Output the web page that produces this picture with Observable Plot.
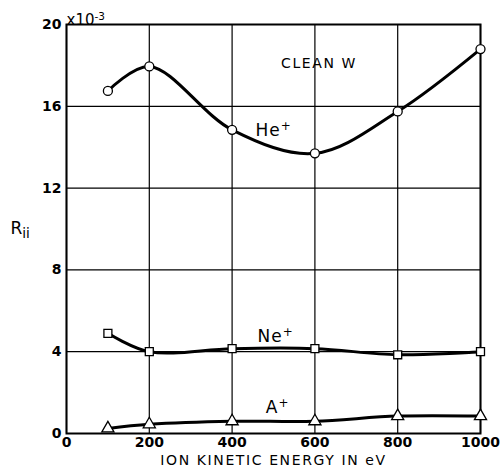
<!DOCTYPE html>
<html>
<head>
<meta charset="utf-8">
<script src="https://cdn.jsdelivr.net/npm/d3@7"></script>
<script src="https://cdn.jsdelivr.net/npm/@observablehq/plot@0.6"></script>
<style>
  body { margin: 0; background: #fff; }
  #chart svg { display: block; }
</style>
</head>
<body>
<div id="chart"></div>
<script>
const energy = [100, 200, 400, 600, 800, 1000];
const heValues = [16.75, 17.95, 14.85, 13.7, 15.75, 18.8];
const neValues = [4.9, 4.0, 4.15, 4.15, 3.85, 4.0];
const arValues = [0.25, 0.45, 0.6, 0.6, 0.85, 0.85];
const xTicks = [0, 200, 400, 600, 800, 1000];
const yTicks = [0, 4, 8, 12, 16, 20];
const seriesNames = ["He^+", "Ne^+", "A^+"];
const seriesSymbols = ["circle", "square", "triangle"];
const labelX = [500, 505, 510];
const labelY = [14.8, 4.75, 1.25];
const titleText = "CLEAN W";
const xLabel = "ION KINETIC ENERGY IN eV";
const yLabel = "R_ii";
const yUnit = "x10^-3";

const seriesValues = [heValues, neValues, arValues];
const data = seriesValues.flatMap((vals, i) =>
  vals.map((v, j) => ({ series: seriesNames[i], symbol: seriesSymbols[i], x: energy[j], y: v }))
);
const labels = seriesNames.map((n, i) => ({ text: n, x: labelX[i], y: labelY[i] }));

const font = "DejaVu Sans, sans-serif";

const chart = Plot.plot({
  width: 500,
  height: 470,
  marginLeft: 66,
  marginRight: 20,
  marginTop: 24,
  marginBottom: 37,
  style: { fontFamily: font, fontSize: "14px", color: "#000", background: "#fff" },
  x: { domain: [0, 1000], label: null },
  y: { domain: [0, 20], label: null },
  symbol: { domain: seriesSymbols, range: seriesSymbols },
  marks: [
    Plot.gridX(xTicks, { stroke: "#000", strokeOpacity: 1, strokeWidth: 1.2 }),
    Plot.gridY(yTicks, { stroke: "#000", strokeOpacity: 1, strokeWidth: 1.2 }),
    Plot.frame({ stroke: "#000", strokeWidth: 2 }),
    Plot.axisX({ ticks: xTicks, tickFormat: d => String(d), tickSize: 0, tickPadding: 4, fontWeight: "bold", fontSize: 14, label: null }),
    Plot.axisY({ ticks: yTicks, tickSize: 0, tickPadding: 5, fontWeight: "bold", fontSize: 14, label: null }),
    Plot.line(data, { x: "x", y: "y", z: "series", curve: "catmull-rom", stroke: "#000", strokeWidth: 3 }),
    Plot.dot(data, { x: "x", y: "y", symbol: "symbol", r: 4.5, fill: "#fff", stroke: "#000", strokeWidth: 1.3 }),
    Plot.text(labels, { x: "x", y: "y", text: "text", fontSize: 17, fill: "#000" }),
    Plot.text([titleText], { x: 610, y: 18.1, fontSize: 14, fill: "#000" }),
    Plot.text([yUnit], { frameAnchor: "top-left", dy: -10, textAnchor: "start", fontSize: 15, fill: "#000" }),
    Plot.text([yLabel], { frameAnchor: "left", y: 10.0, dx: -56, textAnchor: "start", fontSize: 17, fill: "#000" }),
    Plot.text([xLabel], { frameAnchor: "bottom", dy: 31, fontSize: 14, fill: "#000" })
  ]
});

const spacing = { [titleText]: "1.6px", [xLabel]: "1.6px", "He^+": "1px", "Ne^+": "1px", "A^+": "1px" };

// letter spacing + convert ^sup and _sub markers into tspans
d3.select(chart).selectAll("text").each(function () {
  const t = this.textContent;
  if (spacing[t]) this.style.letterSpacing = spacing[t];
  const m = t.match(/^(.*?)([\^_])(.*)$/);
  if (!m) return;
  const el = d3.select(this);
  el.text(null);
  el.append("tspan").text(m[1]);
  if (m[2] === "^") {
    el.append("tspan").attr("dy", "-0.5em").attr("font-size", "0.7em").text(m[3]);
  } else {
    el.append("tspan").attr("dy", "0.25em").attr("font-size", "0.8em").text(m[3]);
  }
});

document.getElementById("chart").appendChild(chart);
</script>
</body>
</html>
